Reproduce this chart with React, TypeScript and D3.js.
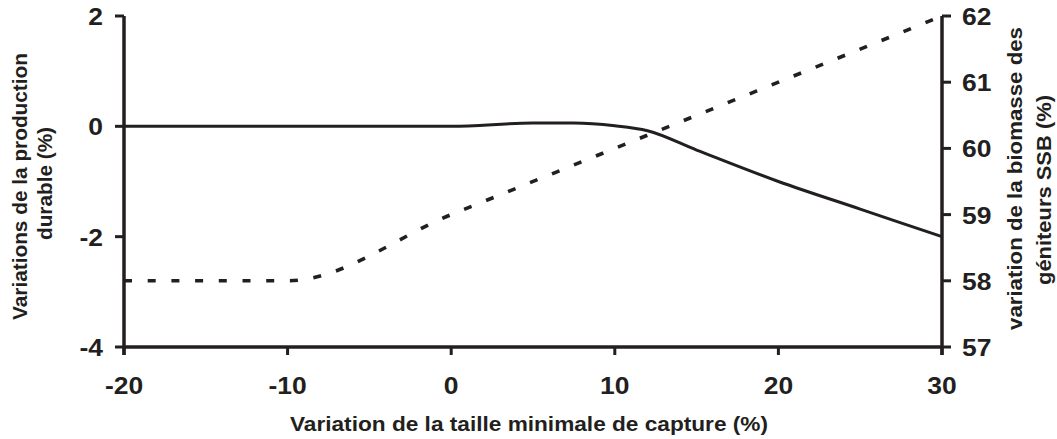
import React from "react";
import * as d3 from "d3";

const xTicks = [-20, -10, 0, 10, 20, 30];
const leftTicks = [-4, -2, 0, 2];
const rightTicks = [57, 58, 59, 60, 61, 62];

const prodX = [-20, -10, 0, 5, 7.5, 10, 12, 15, 20, 25, 30];
const prodY = [0, 0, 0, 0.06, 0.06, 0.01, -0.08, -0.43, -1, -1.5, -2];

const ssbX = [-20, -10, 0, 10, 20, 30];
const ssbY = [58, 58, 59, 60, 61, 62];

const xTitle = "Variation de la taille minimale de capture (%)";
const leftTitle = ["Variations de la production", "durable (%)"];
const rightTitle = ["variation de la biomasse des", "géniteurs SSB (%)"];

const INK = "#231f20";
const FONT = "'Liberation Sans', Arial, sans-serif";

export default function App() {
  const W = 1057, H = 439;
  const x = d3.scaleLinear().domain([-20, 30]).range([124, 942]);
  const yL = d3.scaleLinear().domain([-4, 2]).range([347, 16]);
  const yR = d3.scaleLinear().domain([57, 62]).range([347, 16]);

  const prodLine = d3
    .line<number>()
    .x((_, i) => x(prodX[i]))
    .y((d) => yL(d))
    .curve(d3.curveMonotoneX)(prodY) as string;

  const ssbLine = d3
    .line<number>()
    .x((_, i) => x(ssbX[i]))
    .y((d) => yR(d))
    .curve(d3.curveMonotoneX)(ssbY) as string;

  const x0 = x.range()[0], x1 = x.range()[1];
  const yb = yL.range()[0], yt = yL.range()[1];
  const sx = 1.15;

  return (
    <svg width={W} height={H} style={{ position: "absolute", left: 0, top: 0, background: "#fff" }} fontFamily={FONT}>
      <rect x={0} y={0} width={W} height={H} fill="#fff" />
      {/* data lines */}
      <path d={ssbLine} fill="none" stroke={INK} strokeWidth={3.6} strokeDasharray="8 15.7" />
      <path d={prodLine} fill="none" stroke={INK} strokeWidth={3} />
      {/* axes */}
      <line x1={x0} x2={x1} y1={yb} y2={yb} stroke={INK} strokeWidth={3.5} />
      <line x1={x0} x2={x0} y1={yt} y2={yb + 8} stroke={INK} strokeWidth={3.5} />
      <line x1={x1} x2={x1} y1={yt} y2={yb + 8} stroke={INK} strokeWidth={3.5} />
      {xTicks.map((t) => (
        <g key={"xt" + t}>
          <line x1={x(t)} x2={x(t)} y1={yb} y2={yb + 8} stroke={INK} strokeWidth={3} />
          <g transform={`translate(${x(t)},${yb + 47}) scale(${sx},1)`}>
            <text textAnchor="middle" fontSize={23} fontWeight="bold" fill={INK}>{t}</text>
          </g>
        </g>
      ))}
      {leftTicks.map((t) => (
        <g key={"lt" + t}>
          <line x1={x0 - 9} x2={x0} y1={yL(t)} y2={yL(t)} stroke={INK} strokeWidth={3} />
          <g transform={`translate(${x0 - 21},${yL(t) + 9}) scale(${sx},1)`}>
            <text textAnchor="end" fontSize={23} fontWeight="bold" fill={INK}>{t}</text>
          </g>
        </g>
      ))}
      {rightTicks.map((t) => (
        <g key={"rt" + t}>
          <line x1={x1} x2={x1 + 9} y1={yR(t)} y2={yR(t)} stroke={INK} strokeWidth={3} />
          <g transform={`translate(${x1 + 20},${yR(t) + 9}) scale(${sx},1)`}>
            <text textAnchor="start" fontSize={23} fontWeight="bold" fill={INK}>{t}</text>
          </g>
        </g>
      ))}
      {/* titles */}
      <text x={529} y={431} textAnchor="middle" fontSize={19.5} fontWeight="bold" fill={INK}
        textLength={478} lengthAdjust="spacingAndGlyphs">{xTitle}</text>
      <text transform="translate(27,186.5) rotate(-90)" textAnchor="middle" fontSize={20} fontWeight="bold" fill={INK}
        textLength={267} lengthAdjust="spacingAndGlyphs">{leftTitle[0]}</text>
      <text transform="translate(52,183.5) rotate(-90)" textAnchor="middle" fontSize={20} fontWeight="bold" fill={INK}
        textLength={113} lengthAdjust="spacingAndGlyphs">{leftTitle[1]}</text>
      <text transform="translate(1022,178.5) rotate(-90)" textAnchor="middle" fontSize={20} fontWeight="bold" fill={INK}
        textLength={303} lengthAdjust="spacingAndGlyphs">{rightTitle[0]}</text>
      <text transform="translate(1051,190) rotate(-90)" textAnchor="middle" fontSize={20} fontWeight="bold" fill={INK}
        textLength={190} lengthAdjust="spacingAndGlyphs">{rightTitle[1]}</text>
    </svg>
  );
}
